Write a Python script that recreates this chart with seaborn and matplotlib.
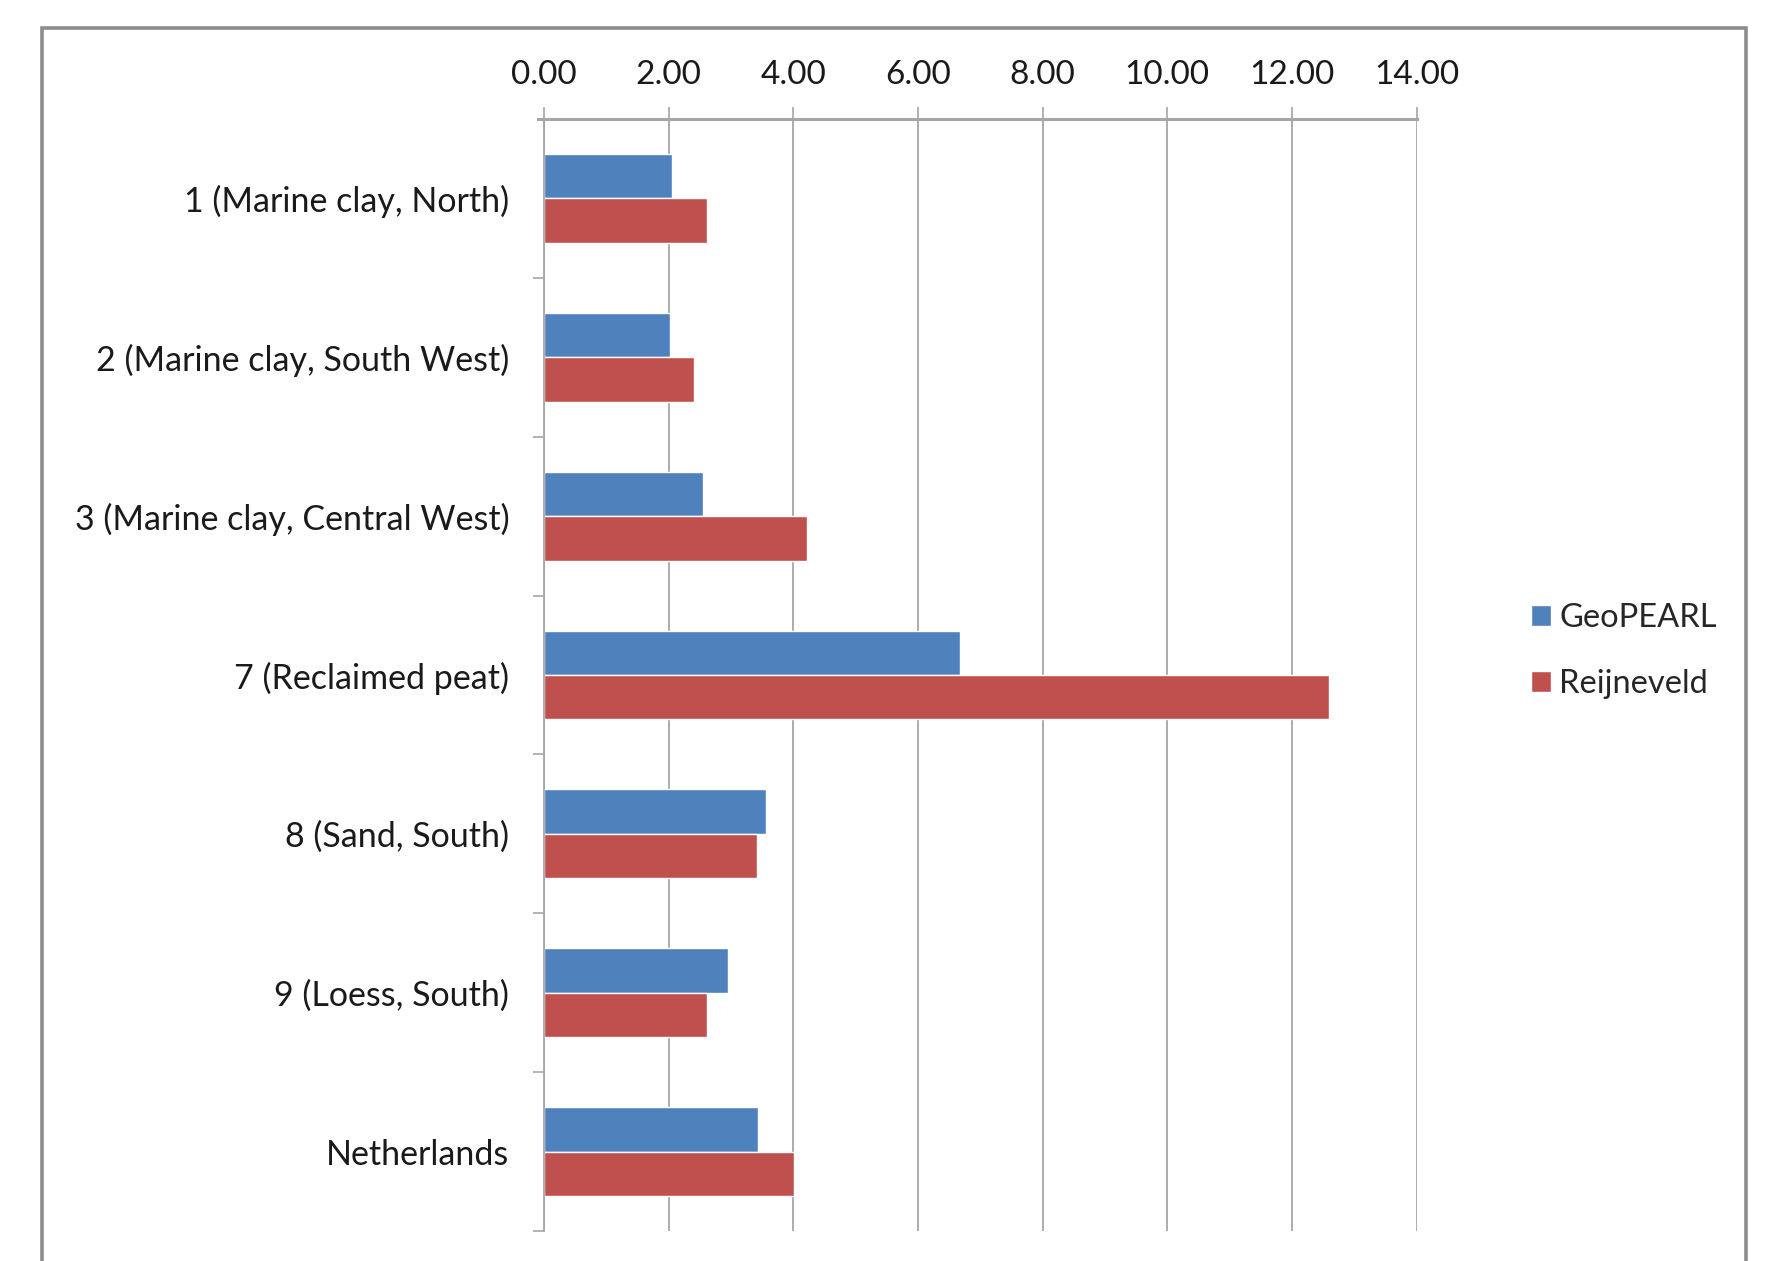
import matplotlib
matplotlib.use("Agg")
import matplotlib.pyplot as plt
from matplotlib.patches import Rectangle
from matplotlib.ticker import FormatStrFormatter, FixedLocator
import seaborn as sns
import pandas as pd

categories = [
    "1 (Marine clay, North)",
    "2 (Marine clay, South West)",
    "3 (Marine clay, Central West)",
    "7 (Reclaimed peat)",
    "8 (Sand, South)",
    "9 (Loess, South)",
    "Netherlands",
]
geopearl = [2.05, 2.02, 2.55, 6.67, 3.56, 2.95, 3.44]
reijneveld = [2.61, 2.41, 4.22, 12.60, 3.41, 2.61, 4.01]
series_names = ["GeoPEARL", "Reijneveld"]
series_colors = ["#4F81BD", "#C0504D"]
x_ticks = [0, 2, 4, 6, 8, 10, 12, 14]

df = pd.DataFrame({
    "category": categories * 2,
    "value": geopearl + reijneveld,
    "series": [series_names[0]] * len(categories) + [series_names[1]] * len(categories),
})

sns.set_style("white")
plt.rcParams["font.family"] = ["Lato", "DejaVu Sans"]

W, H, DPI = 1788, 1261, 100
FS = 24
fig = plt.figure(figsize=(W / DPI, H / DPI), dpi=DPI)
ax = fig.add_axes([544 / W, 1 - 1231 / H, (1416.5 - 544) / W, (1231 - 119) / H])

sns.barplot(data=df, x="value", y="category", hue="series", order=categories,
            hue_order=series_names, palette=series_colors, saturation=1,
            orient="h", width=0.56, ax=ax, legend=True)

grid_col = "#A6A6A6"
ax.set_xlim(0, 14)
ax.set_ylim(len(categories) - 0.5, -0.5)
ax.xaxis.tick_top()
ax.set_xticks(x_ticks)
ax.xaxis.set_major_formatter(FormatStrFormatter("%.2f"))
ax.tick_params(axis="x", which="major", direction="out", length=9, width=1.2,
               color=grid_col, labelsize=FS, pad=12, labelcolor="#1a1a1a")
ax.grid(axis="x", color=grid_col, linewidth=1.3)
ax.set_axisbelow(True)

ax.yaxis.set_minor_locator(FixedLocator([i + 0.5 for i in range(len(categories))]))
ax.tick_params(axis="y", which="major", length=0, labelsize=FS + 0.5, pad=25,
               labelcolor="#1a1a1a")
ax.tick_params(axis="y", which="minor", direction="out", length=8, width=1.2,
               color=grid_col, left=True)
ax.set_xlabel("")
ax.set_ylabel("")

for side in ("right", "bottom"):
    ax.spines[side].set_visible(False)
ax.spines["left"].set_color(grid_col)
ax.spines["left"].set_linewidth(1.3)
ax.spines["top"].set_color(grid_col)
ax.spines["top"].set_linewidth(2.2)
ax.spines["top"].set_bounds(-0.1, 14)

handles, labels = ax.get_legend_handles_labels()
ax.legend(handles, labels, loc="center left", bbox_to_anchor=(1518 / W, 1 - 651 / H),
          bbox_transform=fig.transFigure, frameon=False, fontsize=FS - 0.5,
          handlelength=0.62, handleheight=0.62, handletextpad=0.25,
          labelspacing=1.1, borderaxespad=0)

# outer chart border
fig.patches.append(Rectangle((42 / W, -0.05), (1746 - 42) / W, 1 - 28 / H + 0.05,
                             transform=fig.transFigure, fill=False,
                             edgecolor="#8C8C8C", linewidth=2.6, zorder=10))

fig.savefig("out.png", dpi=DPI)
